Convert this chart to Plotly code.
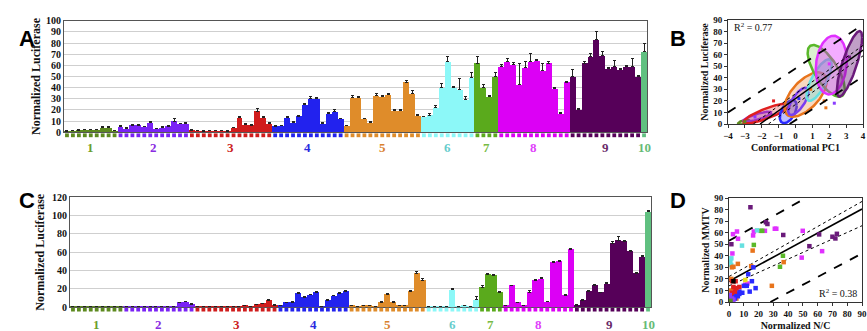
import numpy as np
import plotly.graph_objects as go

# ---------------- data ----------------
group_labels = ["1", "2", "3", "4", "5", "6", "7", "8", "9", "10"]
bar_colors = ["#5d8a1f", "#7a22f5", "#d01c1c", "#2222ee", "#df8c2a",
              "#8cf8f8", "#5aaa1c", "#dc00f5", "#560059", "#60c080"]
label_colors = ["#6b9e2a", "#8a2be2", "#cc2222", "#2a2ae0", "#d9812d",
                "#66cccc", "#77bb44", "#e040fb", "#6a2a6a", "#66bb77"]

# Panel A: normalized luciferase per mutant, grouped
lucA = [
    [1, 1.5, 2, 2.5, 2.5, 2.5, 4.5, 4.5, 1.5],
    [5, 3.5, 6.5, 6.5, 5, 9, 3, 4.5, 5.5, 10, 7.5, 8],
    [2, 1.5, 1, 1.5, 1.5, 1.5, 1, 4, 13, 7, 6.5, 19, 13, 8],
    [5.5, 6, 13, 9, 14.5, 25, 30.5, 30, 7.5, 16.5, 18.5, 12],
    [6, 31, 31, 12, 9, 33, 32, 34, 19.5, 19.5, 45, 35, 15],
    [14, 15.5, 22, 40, 63, 40, 38, 29, 49],
    [62, 40, 32, 50],
    [59, 63, 61, 43, 58, 63, 64, 55, 62, 39.5, 17, 45],
    [50, 20, 62, 68, 83, 69, 57, 59, 56, 59, 59, 50],
    [72],
]
errA = [
    [0.4, 0.4, 0.4, 0.4, 0.4, 0.4, 0.5, 0.5, 0.4],
    [0.8, 0.5, 0.5, 0.5, 0.5, 0.8, 0.5, 0.5, 0.8, 2.5, 0.8, 0.8],
    [0.5, 0.3, 0.3, 0.3, 0.3, 0.3, 0.3, 0.5, 1.5, 0.5, 0.5, 2, 1.5, 1],
    [0.5, 0.5, 1, 0.5, 0.5, 1, 2, 1, 1, 1, 1.5, 0.5],
    [0.5, 2, 1, 0.5, 0.5, 1.5, 1, 1, 0.5, 0.5, 1.5, 2.5, 1],
    [0.5, 1.5, 2, 3.5, 5, 1, 10, 3.5, 5],
    [6, 2.5, 1, 4],
    [2, 3, 1.5, 19, 5, 8, 1.5, 7, 1.5, 1, 0.5, 0.5],
    [6, 1, 1.5, 3, 7, 3, 1, 5, 1, 1, 7, 0.5],
    [8],
]

# Panel C
lucC = [
    [0.3, 0.3, 0.5, 0.8, 0.8, 0.5, 0.5, 0.8, 0.3],
    [0.3, 0.5, 0.8, 0.8, 0.8, 0.5, 0.3, 0.8, 0.8, 5, 6, 3.5],
    [1, 0.5, 0.3, 0.3, 0.3, 0.3, 0.3, 0.5, 2, 1, 3, 4, 7.5, 2.5],
    [2, 5, 5.5, 15, 11, 13.5, 16, 0.5, 7.5, 12.5, 15.5, 17.5],
    [1.5, 0.5, 2, 2, 1, 5.5, 14, 5.5, 1.5, 1.5, 17.5, 37, 29],
    [0.3, 0.3, 0.3, 0.3, 19, 0.5, 1.5, 0.3, 8],
    [22, 36, 34.5, 16.5],
    [1.5, 23.5, 5, 1.5, 16, 29.5, 31, 6, 49, 50, 13, 63],
    [2.5, 7.5, 17, 24, 16, 25.5, 70, 73, 72, 61, 37, 55],
    [104],
]
errC = [
    [0.2] * 9,
    [0.2, 0.2, 0.2, 0.2, 0.2, 0.2, 0.2, 0.2, 0.2, 0.6, 0.6, 0.4],
    [0.2, 0.2, 0.2, 0.2, 0.2, 0.2, 0.2, 0.2, 0.4, 0.2, 0.4, 0.5, 1, 0.4],
    [0.3, 0.5, 0.5, 1, 0.8, 0.8, 1, 0.2, 0.5, 0.8, 1, 1.2],
    [0.3, 0.2, 0.3, 0.3, 0.2, 0.5, 1, 0.5, 0.3, 0.3, 1, 2.5, 2],
    [0.1, 0.1, 0.1, 0.1, 1, 0.2, 0.3, 0.1, 4],
    [2, 1, 0.8, 0.8],
    [0.3, 0.8, 0.5, 0.3, 2, 0.8, 1, 0.5, 0.8, 1, 0.5, 1],
    [0.5, 0.5, 1, 1, 0.5, 1.5, 2, 4, 1, 1, 0.8, 2],
    [2],
]

# Panel B: confidence ellipses (center, half-width, half-height, correlation)
ell_group = [0, 1, 2, 3, 4, 1, 5, 6, 7, 8]
ell_cx = [-3.05, -2.25, -1.7, -0.43, 0.6, 0.17, 1.4, 1.82, 2.12, 3.2]
ell_cy = [1.5, 6.3, 9.2, 10.7, 25.5, 19.6, 38.0, 46.0, 51.0, 52.0]
ell_sx = [0.35, 0.84, 1.38, 0.5, 1.25, 0.6, 0.75, 1.1, 0.92, 0.75]
ell_sy = [2.0, 4.3, 8.7, 10.0, 19.2, 11.8, 18.0, 22.4, 25.4, 28.4]
ell_rho = [0.5, 0.8, 0.85, 0.5, 0.6, 0.7, 0.75, -0.7, 0.15, 0.8]
ell_alpha = [0.3, 0.3, 0.28, 0.3, 0.28, 0.2, 0.4, 0.22, 0.4, 0.42]

b_pts_x = [-1.3, 1.7, 1.8, 2.3, -3.0, -2.4, 0.2, 0.9, 2.0, 3.2]
b_pts_y = [20, 20, 14, 18, 2, 6, 22, 30, 52, 58]
b_pts_g = [2, 4, 4, 1, 0, 1, 3, 4, 7, 8]

b_fit_x = [-2.1, 4.0]
b_fit_y = [0, 64]
b_ci_up_x = [-2.5, 4.0]
b_ci_up_y = [0, 68]
b_ci_lo_x = [-1.6, 4.0]
b_ci_lo_y = [0, 59]
b_pi_up_x = [-4.0, 4.0]
b_pi_up_y = [10, 86]
b_pi_lo_x = [-0.35, 4.0]
b_pi_lo_y = [0, 41]

# Panel D: normalized N/C vs MMTV
d_x = [14.5, 25, 26, 1.6, 36.7, 54.4, 61, 70, 72, 73,
       2.7, 5.4, 6.1, 2.3, 16.3, 16.8, 24.3, 31, 32, 49.9, 49.2, 63, 12.5, 11,
       16.8, 21.5, 22.5, 36.5, 34.5,
       8.8, 19, 1.6, 0.9, 1.5,
       16, 6, 15, 37, 29, 2, 3, 1, 3, 2, 5, 1.5,
       16.5, 13, 15.5, 18, 14, 12, 9, 7, 5, 3, 4, 7, 10, 6,
       2, 4.5, 3, 7, 1, 2, 4, 1, 5,
       1, 2, 3, 1, 0.5,
       0.5, 1,
       3, 11]
d_y = [82, 69, 67.5, 50, 58, 48.3, 58.5, 56.5, 55, 59,
       58.7, 61, 54.7, 42, 57.6, 61, 61.6, 63.4, 63.4, 61.6, 38.4, 44, 16, 15,
       49.4, 61.6, 61.6, 40, 30.5,
       48.8, 62, 37.8, 35, 32,
       44.5, 33, 31, 34.5, 14, 30, 30.5, 10, 12, 6, 3, 20,
       30, 24, 18, 12, 9, 14, 8, 7, 6, 5, 3, 9, 14, 5,
       18, 18, 13, 13, 5, 8, 9, 3, 12,
       1, 3, 2, 2, 6,
       0.5, 1,
       18, 19]
d_g = [8] * 10 + [7] * 14 + [6] * 5 + [5] * 5 + [4] * 12 + [3] * 14 + \
      [2] * 9 + [1] * 5 + [0] * 2 + [10, 11]
point_colors = [bar_colors[0], "#8a3cff", "#e02020", "#2a2aff", "#e8741c",
                "#66e0e0", "#5ab82a", "#e030ff", "#6a1a7a", bar_colors[9],
                "#000000", "#e8e020"]

d_fit_x = [0, 90]
d_fit_y = [18, 80.5]
d_ci_up_x = [0, 90]
d_ci_up_y = [22, 87]
d_ci_lo_x = [0, 90]
d_ci_lo_y = [14, 66]
d_pi_up_x = [0, 52]
d_pi_up_y = [53, 90]
d_pi_lo_x = [28, 90]
d_pi_lo_y = [0, 42]

# ---------------- figure ----------------
W, H = 867, 331
SERIF = "Liberation Serif"
fig = go.Figure()


def px_x(a, b):
    return [a / W, b / W]


def px_y(top, bottom):
    return [(H - bottom) / H, (H - top) / H]


def add_bar_panel(vals, errs, xa, ya, xs_a, ys_a, sq_y, lab_y):
    xs, ys, es, cs, gx = [], [], [], [], []
    i = 0
    for g, (gv, ge) in enumerate(zip(vals, errs)):
        start = i
        for v, e in zip(gv, ge):
            xs.append(i)
            ys.append(v)
            es.append(e)
            cs.append(bar_colors[g])
            i += 1
        gx.append((start + i - 1) / 2)
    fig.add_trace(go.Bar(
        x=xs, y=ys, xaxis=xa, yaxis=ya, marker=dict(color=cs, line=dict(width=0)),
        error_y=dict(type="data", array=es, arrayminus=[0] * len(es), symmetric=False,
                     color="#222", thickness=1, width=1.5),
        showlegend=False, hoverinfo="skip"))
    # coloured squares strip (separate invisible axis below the plot)
    fig.add_trace(go.Scatter(
        x=xs, y=[sq_y] * len(xs), xaxis=xs_a, yaxis=ys_a, mode="markers",
        marker=dict(symbol="square", size=3.8, color=cs), cliponaxis=False,
        showlegend=False, hoverinfo="skip"))
    for g, cx in enumerate(gx):
        fig.add_annotation(x=cx, y=lab_y, xref=xs_a, yref=ys_a, text="<b>%s</b>" % group_labels[g],
                           showarrow=False, font=dict(family=SERIF, size=13, color=label_colors[g]))
    return len(xs)


nA = add_bar_panel(lucA, errA, "x", "y", "x5", "y5", 0.9, 0.35)
nC = add_bar_panel(lucC, errC, "x3", "y3", "x6", "y6", 0.93, 0.3)

# Panel B ellipses
t = np.linspace(0, 2 * np.pi, 120)
for k in range(len(ell_cx)):
    col = point_colors[ell_group[k]] if k != 5 else "#7a3cf0"
    r = ell_rho[k]
    ex = ell_cx[k] + ell_sx[k] * np.cos(t)
    ey = ell_cy[k] + ell_sy[k] * (r * np.cos(t) + np.sqrt(1 - r * r) * np.sin(t))
    rgb = tuple(int(col[i:i + 2], 16) for i in (1, 3, 5))
    fig.add_trace(go.Scatter(
        x=ex, y=ey, xaxis="x2", yaxis="y2", mode="lines", fill="toself",
        fillcolor="rgba(%d,%d,%d,%.2f)" % (rgb + (ell_alpha[k],)),
        line=dict(color=col, width=2.5), showlegend=False, hoverinfo="skip"))

fig.add_trace(go.Scatter(x=b_pts_x, y=b_pts_y, xaxis="x2", yaxis="y2", mode="markers",
                         marker=dict(symbol="square", size=3, color=[point_colors[g] for g in b_pts_g]),
                         showlegend=False, hoverinfo="skip"))

for lx, ly, dash, w in [(b_fit_x, b_fit_y, "solid", 1.5), (b_ci_up_x, b_ci_up_y, "dot", 1),
                        (b_ci_lo_x, b_ci_lo_y, "dot", 1), (b_pi_up_x, b_pi_up_y, "dash", 1.8),
                        (b_pi_lo_x, b_pi_lo_y, "dash", 1.8)]:
    fig.add_trace(go.Scatter(x=lx, y=ly, xaxis="x2", yaxis="y2", mode="lines",
                             line=dict(color="black", width=w, dash=dash),
                             showlegend=False, hoverinfo="skip"))

# Panel D
for lx, ly, dash, w in [(d_fit_x, d_fit_y, "solid", 1.6), (d_ci_up_x, d_ci_up_y, "dot", 1),
                        (d_ci_lo_x, d_ci_lo_y, "dot", 1), (d_pi_up_x, d_pi_up_y, "dash", 1.8),
                        (d_pi_lo_x, d_pi_lo_y, "dash", 1.8)]:
    fig.add_trace(go.Scatter(x=lx, y=ly, xaxis="x4", yaxis="y4", mode="lines",
                             line=dict(color="black", width=w, dash=dash),
                             showlegend=False, hoverinfo="skip"))
fig.add_trace(go.Scatter(x=d_x, y=d_y, xaxis="x4", yaxis="y4", mode="markers",
                         marker=dict(symbol="square", size=4.5, color=[point_colors[g] for g in d_g]),
                         showlegend=False, hoverinfo="skip"))

tickf = dict(family=SERIF, size=10, color="#111", weight="bold")
tickf_s = dict(family=SERIF, size=9, color="#111", weight="bold")
titf = dict(family=SERIF, size=12, color="#111", weight="bold")
titf_s = dict(family=SERIF, size=10, color="#111", weight="bold")

bar_x = dict(range=[-0.5, nA - 0.5], showticklabels=False, ticks="", showgrid=False,
             showline=True, mirror=True, linecolor="#555", linewidth=1, zeroline=False,
             automargin=False)
hidden = dict(visible=False, showgrid=False, zeroline=False, automargin=False)
sc_common = dict(showgrid=False, zeroline=False, showline=True, mirror=True, linecolor="#333",
                 ticks="outside", ticklen=3, tickcolor="#333", tickfont=tickf_s, automargin=False)

fig.update_layout(
    width=W, height=H, margin=dict(l=0, r=0, t=0, b=0, autoexpand=False),
    paper_bgcolor="white", plot_bgcolor="white", bargap=0,
    xaxis=dict(bar_x, domain=px_x(64, 647), anchor="y"),
    yaxis=dict(domain=px_y(20.7, 132.3), anchor="x", range=[0, 100], dtick=10,
               showgrid=True, gridcolor="#cfcfcf", gridwidth=1, zeroline=False,
               showline=True, mirror=True, linecolor="#555", ticks="", tickfont=tickf,
               automargin=False,
               title=dict(text="Normalized Luciferase", font=titf, standoff=2)),
    xaxis5=dict(hidden, domain=px_x(64, 647), anchor="y5", range=[-0.5, nA - 0.5]),
    yaxis5=dict(hidden, domain=px_y(133, 156), anchor="x5", range=[0, 1]),
    xaxis3=dict(bar_x, domain=px_x(70, 651), anchor="y3", range=[-0.5, nC - 0.5]),
    yaxis3=dict(domain=px_y(197.3, 307.3), anchor="x3", range=[0, 120], dtick=20,
                showgrid=True, gridcolor="#cfcfcf", gridwidth=1, zeroline=False,
                showline=True, mirror=True, linecolor="#555", ticks="", tickfont=tickf,
                automargin=False,
                title=dict(text="Normalized Luciferase", font=titf, standoff=4)),
    xaxis6=dict(hidden, domain=px_x(70, 651), anchor="y6", range=[-0.5, nC - 0.5]),
    yaxis6=dict(hidden, domain=px_y(308, 331), anchor="x6", range=[0, 1]),
    xaxis2=dict(sc_common, domain=px_x(728, 863), anchor="y2", range=[-4, 4], dtick=1,
                title=dict(text="Conformational PC1", font=titf_s, standoff=4)),
    yaxis2=dict(sc_common, domain=px_y(20, 124), anchor="x2", range=[0, 90], dtick=10,
                title=dict(text="Normalized Luciferase", font=titf_s, standoff=2)),
    xaxis4=dict(sc_common, domain=px_x(729, 862), anchor="y4", range=[0, 90], dtick=10,
                title=dict(text="Normalized N/C", font=titf_s, standoff=4)),
    yaxis4=dict(sc_common, domain=px_y(198, 302), anchor="x4", range=[0, 90], dtick=10,
                title=dict(text="Normalized MMTV", font=titf_s, standoff=2)),
)

fig.add_annotation(x=-3.75, y=84, xref="x2", yref="y2", text="R<sup>2</sup> = 0.77",
                   showarrow=False, xanchor="left", font=dict(family=SERIF, size=10, color="#111"))
fig.add_annotation(x=88, y=8, xref="x4", yref="y4", text="R<sup>2</sup> = 0.38",
                   showarrow=False, xanchor="right", font=dict(family=SERIF, size=10, color="#111"))

for letter, cx, cy in [("A", 17, 24), ("B", 688, 24), ("C", 17, 200), ("D", 688, 200)]:
    fig.add_annotation(x=cx / W, y=(H - cy) / H, xref="paper", yref="paper", text="<b>%s</b>" % letter,
                       showarrow=False, font=dict(family="Liberation Sans", size=22, color="black"))

fig.write_html("out.html", config={"displayModeBar": False},
               post_script="document.body.style.margin='0';document.body.style.overflow='hidden';")
